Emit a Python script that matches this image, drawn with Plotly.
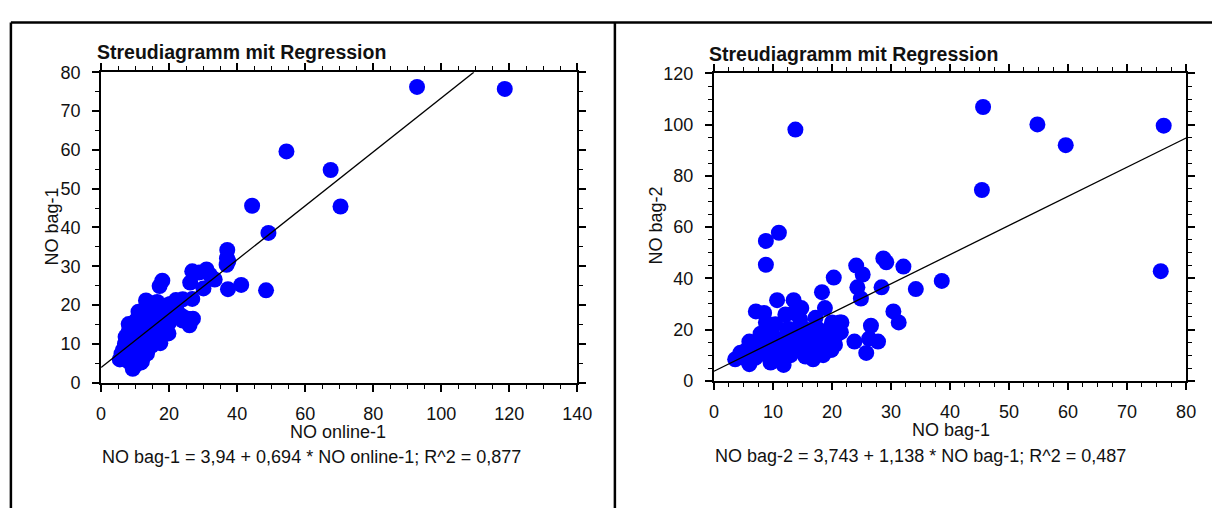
import plotly.graph_objects as go

# NO measurements per sample: online sensor, bag 1, bag 2
no_online_1 = [
    92.9, 118.7, 54.5, 67.5, 44.4, 70.4, 49.2, 37.1, 37.0, 37.4,
    36.9, 31.0, 26.8, 28.8, 32.0, 33.4, 18.0, 26.2, 41.2, 17.2,
    30.1, 37.3, 48.5, 26.8, 13.2, 20.3, 20.9, 17.5, 22.1, 15.0,
    11.0, 23.7, 27.0, 26.0, 19.8, 17.4, 9.3, 10.4, 5.5, 7.4,
    11.7, 7.2, 8.1,
    10.0, 11.5, 9.5, 13.0, 12.0, 14.5, 8.0, 9.0, 10.5, 12.5,
    13.5, 15.5, 11.0, 9.0, 18.5, 11.0, 22.0, 24.0, 19.0, 18.0,
    16.0, 14.0,
    6.0, 6.5, 7.0, 7.5, 7.8, 8.0, 8.2, 8.5, 8.8, 9.0,
    9.2, 9.5, 9.8, 10.0, 10.2, 10.5, 10.8, 11.0, 11.2, 11.5,
    11.8, 12.0, 12.2, 12.5, 12.8, 13.0, 13.2, 13.5, 13.8, 14.0,
    14.2, 14.5, 14.8, 15.0, 15.2, 15.5, 15.8, 16.0, 16.2, 16.5,
    16.8, 17.0, 17.3, 17.6, 18.0, 18.3, 18.6, 19.0, 19.3, 19.6,
    20.0, 21.0, 22.5, 24.0, 25.5, 11.0, 12.0, 10.0, 8.5, 13.5,
    16.5, 15.0,
]
no_bag_1 = [
    76.2, 75.7, 59.6, 54.8, 45.6, 45.4, 38.6, 34.2, 32.1, 31.3,
    30.4, 29.2, 28.7, 28.4, 27.8, 26.6, 26.3, 25.8, 25.2, 24.9,
    24.3, 24.1, 23.8, 21.6, 21.2, 20.3, 20.0, 19.8, 19.2, 18.8,
    18.3, 17.2, 16.5, 14.8, 12.7, 10.2, 3.6, 4.8, 6.0, 6.0,
    5.2, 11.8, 15.1,
    8.8, 11.0, 8.8, 13.8, 10.7, 13.5, 7.1, 8.5, 8.8, 12.1,
    13.5, 14.6, 10.4, 7.9, 16.8, 9.6, 21.3, 21.5, 19.9, 18.2,
    15.4, 12.4,
    7.5, 8.5, 10.0, 9.0, 12.5, 5.5, 13.5, 7.0, 11.0, 9.5,
    14.0, 12.0, 6.5, 10.5, 16.0, 13.0, 8.0, 15.0, 11.5, 17.0,
    9.0, 14.5, 12.0, 18.5, 10.0, 16.5, 13.0, 7.5, 19.5, 11.5,
    15.5, 17.5, 9.5, 14.0, 20.5, 12.5, 16.0, 18.0, 11.0, 14.5,
    19.0, 13.5, 16.5, 12.0, 15.0, 17.5, 14.0, 16.0, 13.0, 18.5,
    15.5, 17.0, 18.0, 16.0, 16.5, 7.0, 5.5, 4.5, 9.8, 19.0,
    20.8, 10.5,
]
no_bag_2 = [
    99.6, 42.8, 92.0, 100.1, 106.9, 74.5, 39.0, 35.8, 44.6, 22.8,
    27.1, 46.3, 47.8, 36.5, 15.3, 21.5, 16.5, 10.9, 41.5, 32.1,
    36.5, 45.0, 15.3, 22.8, 19.0, 40.3, 22.8, 12.1, 19.6, 28.4,
    34.6, 24.6, 14.0, 28.4, 20.2, 15.0, 8.4, 10.0, 6.5, 15.3,
    9.0, 6.2, 18.4,
    54.6, 57.8, 45.3, 98.1, 31.5, 31.5, 27.1, 26.5, 22.8, 25.9,
    26.5, 24.0, 22.1, 18.4, 8.4, 7.1, 22.8, 19.0, 12.1, 19.0,
    20.2, 20.2,
    10.0, 12.0, 9.0, 14.0, 11.0, 8.5, 16.0, 11.5, 13.0, 10.5,
    12.0, 17.0, 9.5, 15.5, 14.5, 10.0, 13.5, 19.0, 11.0, 13.0,
    12.5, 16.5, 9.0, 15.0, 14.0, 11.5, 18.0, 10.5, 17.5, 12.5,
    9.5, 20.5, 15.0, 13.5, 14.0, 11.0, 17.0, 10.5, 16.0, 21.0,
    16.0, 12.0, 18.5, 14.0, 11.5, 13.5, 19.5, 12.0, 17.0, 10.0,
    15.5, 14.5, 16.5, 13.0, 18.0, 9.0, 12.0, 11.0, 20.0, 12.5,
    18.0, 9.0,
]

# Fitted regressions (intercept, slope, R^2)
fit_left = (3.94, 0.694, "0,877")
fit_right = (3.743, 1.138, "0,487")

left_range_x, left_range_y = (0, 140), (0, 80)
right_range_x, right_range_y = (0, 80), (0, 120)

W, H = 1227, 518
FONT = "Liberation Sans, Arial, sans-serif"
BLUE = "#0000FF"


def px(x):
    return x / W


def py(y):
    return 1 - y / H


def fit_line(a, b, xr, yr):
    x_end = min(xr[1], (yr[1] - a) / b)
    return [xr[0], x_end], [a + b * xr[0], a + b * x_end]


def de(v):
    return str(v).replace(".", ",")


fig = go.Figure()

fig.add_trace(go.Scatter(
    x=no_online_1, y=no_bag_1, mode="markers",
    marker=dict(color=BLUE, size=16, line=dict(width=0)),
    xaxis="x", yaxis="y", showlegend=False))
lx, ly = fit_line(fit_left[0], fit_left[1], left_range_x, left_range_y)
fig.add_trace(go.Scatter(x=lx, y=ly, mode="lines",
                         line=dict(color="black", width=1.3),
                         xaxis="x", yaxis="y", showlegend=False))

fig.add_trace(go.Scatter(
    x=no_bag_1, y=no_bag_2, mode="markers",
    marker=dict(color=BLUE, size=16, line=dict(width=0)),
    xaxis="x2", yaxis="y2", showlegend=False))
rx, ry = fit_line(fit_right[0], fit_right[1], right_range_x, right_range_y)
fig.add_trace(go.Scatter(x=rx, y=ry, mode="lines",
                         line=dict(color="black", width=1.3),
                         xaxis="x2", yaxis="y2", showlegend=False))


def axis(rng, dtick, minor, domain, anchor, standoff):
    return dict(
        range=list(rng), dtick=dtick, tick0=0, domain=domain, anchor=anchor,
        showline=True, linecolor="black", linewidth=2, mirror="ticks",
        ticks="outside", ticklen=7, tickwidth=1.5, tickcolor="black",
        minor=dict(dtick=minor, ticks="outside", ticklen=4, tickwidth=1.2,
                   tickcolor="black", showgrid=False),
        showgrid=False, zeroline=False, ticklabelstandoff=standoff,
        tickfont=dict(family=FONT, size=18, color="#111111"),
    )


fig.update_layout(
    width=W, height=H, margin=dict(l=0, r=0, t=0, b=0),
    paper_bgcolor="white", plot_bgcolor="white",
    xaxis=axis(left_range_x, 20, 5, [px(97.7), px(581.7)], "y", 7),
    yaxis=axis(left_range_y, 10, 5, [py(387.7), py(64.7)], "x", 8),
    xaxis2=axis(right_range_x, 10, 2.5, [px(720.7), px(1200.7)], "y2", 7),
    yaxis2=axis(right_range_y, 20, 5, [py(385.7), py(66)], "x2", 8),
)

texts = [
    # (text, x, y, anchor, size, bold, angle)
    ("Streudiagramm mit Regression", 91, 44, "left", 19.5, True, 0),
    ("Streudiagramm mit Regression", 714, 46, "left", 19.5, True, 0),
    ("NO online-1", 339, 439, "center", 18, False, 0),
    ("NO bag-1", 48, 225, "center", 18, False, -90),
    ("NO bag-1", 962, 437, "center", 18, False, 0),
    ("NO bag-2", 662, 224, "center", 18, False, -90),
    (f"NO bag-1 = {de(fit_left[0])} + {de(fit_left[1])} * NO online-1; "
     f"R^2 = {fit_left[2]}", 97, 465, "left", 18, False, 0),
    (f"NO bag-2 = {de(fit_right[0])} + {de(fit_right[1])} * NO bag-1; "
     f"R^2 = {fit_right[2]}", 720, 464, "left", 18, False, 0),
]
for t, x, y, anc, size, bold, ang in texts:
    fig.add_annotation(
        text=f"<b>{t}</b>" if bold else t, x=px(x), y=py(y),
        xref="paper", yref="paper", xanchor=anc, yanchor="middle",
        showarrow=False, textangle=ang,
        font=dict(family=FONT, size=size, color="#111111"))

# Outer page frame
frame = dict(type="line", xref="paper", yref="paper",
             line=dict(color="black", width=2.5))
fig.add_shape(**frame, x0=px(6), x1=1, y0=py(13), y1=py(13))
fig.add_shape(**frame, x0=px(6), x1=px(6), y0=py(13), y1=0)
fig.add_shape(**frame, x0=px(620), x1=px(620), y0=py(13), y1=0)

fig.write_html("out.html")
